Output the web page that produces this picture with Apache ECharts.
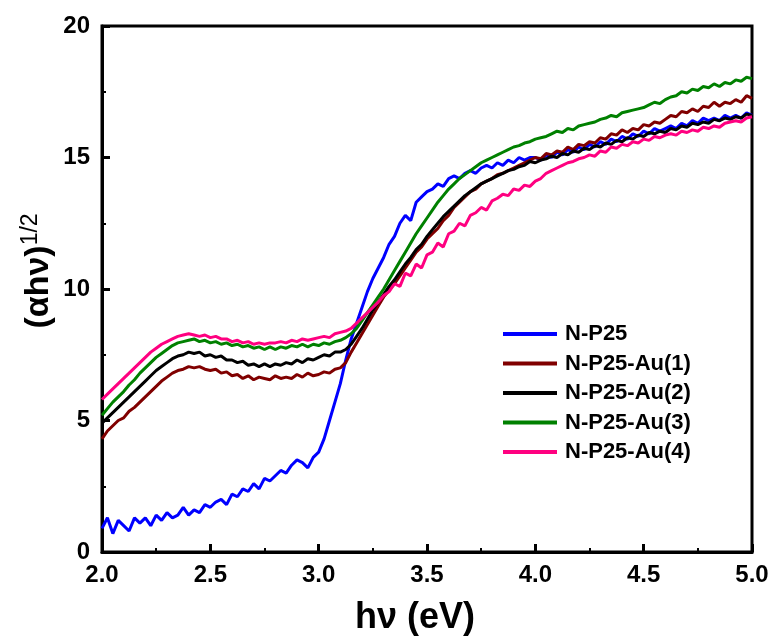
<!DOCTYPE html>
<html>
<head>
<meta charset="utf-8">
<script src="https://cdn.jsdelivr.net/npm/echarts@6/dist/echarts.min.js"></script>
<style>html,body{margin:0;padding:0;background:#fff}#c{width:772px;height:640px}</style>
</head>
<body>
<div id="c"></div>
<script>
const seriesNames = ['N-P25', 'N-P25-Au(1)', 'N-P25-Au(2)', 'N-P25-Au(3)', 'N-P25-Au(4)'];
const xTicks = [2.0, 2.5, 3.0, 3.5, 4.0, 4.5, 5.0];
const yTicks = [0, 5, 10, 15, 20];
const energy = [
2.000,2.025,2.050,2.075,2.100,2.125,2.150,2.175,2.200,2.225,
2.250,2.275,2.300,2.325,2.350,2.375,2.400,2.425,2.450,2.475,
2.500,2.525,2.550,2.575,2.600,2.625,2.650,2.675,2.700,2.725,
2.750,2.775,2.800,2.825,2.850,2.875,2.900,2.925,2.950,2.975,
3.000,3.025,3.050,3.075,3.100,3.125,3.150,3.175,3.200,3.225,
3.250,3.275,3.300,3.325,3.350,3.375,3.400,3.425,3.450,3.475,
3.500,3.525,3.550,3.575,3.600,3.625,3.650,3.675,3.700,3.725,
3.750,3.775,3.800,3.825,3.850,3.875,3.900,3.925,3.950,3.975,
4.000,4.025,4.050,4.075,4.100,4.125,4.150,4.175,4.200,4.225,
4.250,4.275,4.300,4.325,4.350,4.375,4.400,4.425,4.450,4.475,
4.500,4.525,4.550,4.575,4.600,4.625,4.650,4.675,4.700,4.725,
4.750,4.775,4.800,4.825,4.850,4.875,4.900,4.925,4.950,4.975,
5.000];
const nP25 = [
0.9,1.3,0.7,1.2,1.0,0.8,1.3,1.1,1.3,1.0,
1.4,1.2,1.5,1.3,1.4,1.7,1.4,1.6,1.5,1.8,
1.7,1.9,2.0,1.8,2.2,2.1,2.4,2.3,2.6,2.4,
2.8,2.7,2.9,3.1,3.0,3.3,3.5,3.4,3.2,3.6,
3.8,4.3,5.0,5.7,6.4,7.3,8.1,8.7,9.3,9.9,
10.4,10.8,11.2,11.7,12.0,12.5,12.8,12.6,13.3,13.5,
13.7,13.8,14.0,13.9,14.2,14.3,14.2,14.4,14.5,14.4,
14.6,14.7,14.6,14.8,14.7,14.9,14.8,15.0,14.9,15.0,
15.0,14.9,15.1,15.0,15.2,15.1,15.3,15.2,15.4,15.3,
15.5,15.4,15.6,15.5,15.7,15.6,15.8,15.7,15.9,15.8,
16.0,15.9,16.1,16.0,16.1,16.2,16.1,16.3,16.2,16.4,
16.3,16.5,16.4,16.5,16.4,16.6,16.5,16.6,16.5,16.7,
16.6];
const au1 = [
4.3,4.6,4.8,5.0,5.1,5.35,5.5,5.7,5.9,6.1,
6.3,6.5,6.65,6.8,6.9,6.95,7.05,7.0,7.05,6.95,
6.9,6.95,6.8,6.85,6.7,6.75,6.6,6.7,6.55,6.65,
6.6,6.55,6.7,6.6,6.65,6.6,6.75,6.65,6.8,6.7,
6.75,6.85,6.8,6.95,7.0,7.2,7.6,7.95,8.3,8.65,
9.0,9.35,9.7,9.95,10.2,10.5,10.8,11.1,11.4,11.6,
11.9,12.1,12.3,12.6,12.8,13.1,13.3,13.5,13.7,13.8,
14.0,14.1,14.2,14.35,14.4,14.5,14.6,14.7,14.8,14.9,
15.0,14.95,15.15,15.1,15.25,15.2,15.4,15.3,15.5,15.45,
15.6,15.55,15.75,15.7,15.9,15.85,16.05,15.95,16.1,16.05,
16.25,16.2,16.35,16.3,16.45,16.6,16.55,16.75,16.7,16.85,
16.75,16.95,16.9,17.1,16.95,17.1,17.05,17.2,17.1,17.35,
17.25];
const au2 = [
4.9,5.1,5.3,5.5,5.7,5.9,6.1,6.3,6.5,6.7,
6.9,7.05,7.2,7.35,7.45,7.5,7.6,7.55,7.6,7.45,
7.5,7.4,7.45,7.3,7.3,7.2,7.25,7.1,7.15,7.05,
7.15,7.05,7.15,7.1,7.2,7.15,7.3,7.2,7.35,7.3,
7.4,7.5,7.45,7.6,7.6,7.7,7.9,8.2,8.5,8.85,
9.2,9.5,9.8,10.1,10.35,10.65,10.95,11.2,11.5,11.7,
12.0,12.25,12.5,12.75,12.95,13.15,13.35,13.55,13.7,13.85,
14.0,14.1,14.2,14.3,14.4,14.5,14.55,14.65,14.7,14.85,
14.8,14.9,14.95,15.05,15.0,15.15,15.1,15.25,15.2,15.35,
15.3,15.45,15.4,15.55,15.5,15.65,15.6,15.75,15.7,15.85,
15.8,15.95,15.9,16.0,15.95,16.1,16.05,16.2,16.15,16.3,
16.25,16.35,16.3,16.45,16.4,16.5,16.45,16.55,16.5,16.65,
16.6];
const au3 = [
5.2,5.45,5.7,5.9,6.1,6.35,6.55,6.8,7.0,7.2,
7.4,7.55,7.7,7.85,7.95,8.0,8.05,8.1,8.0,8.05,
7.95,8.0,7.9,7.95,7.85,7.9,7.8,7.85,7.75,7.8,
7.7,7.8,7.7,7.8,7.75,7.85,7.8,7.9,7.8,7.9,
7.85,7.95,7.9,8.0,8.05,8.15,8.3,8.5,8.8,9.1,
9.4,9.7,10.0,10.35,10.7,11.05,11.4,11.75,12.1,12.4,
12.7,13.0,13.3,13.55,13.8,14.0,14.2,14.35,14.5,14.65,
14.8,14.9,15.0,15.1,15.2,15.3,15.4,15.45,15.55,15.6,
15.7,15.75,15.8,15.9,16.0,15.95,16.1,16.05,16.2,16.25,
16.3,16.35,16.45,16.5,16.6,16.55,16.7,16.75,16.8,16.85,
16.9,17.0,17.1,17.05,17.2,17.3,17.35,17.5,17.45,17.6,
17.55,17.7,17.65,17.8,17.7,17.85,17.8,17.95,17.9,18.05,
18.0];
const au4 = [
5.8,6.0,6.2,6.4,6.6,6.8,7.0,7.2,7.4,7.6,
7.75,7.9,8.0,8.1,8.2,8.25,8.3,8.25,8.2,8.25,
8.15,8.2,8.1,8.1,8.0,8.05,7.95,8.0,7.9,7.95,
7.9,7.95,7.95,8.0,7.95,8.05,8.0,8.1,8.05,8.1,
8.15,8.2,8.15,8.3,8.35,8.4,8.5,8.7,8.9,9.1,
9.3,9.5,9.75,9.9,10.2,10.1,10.6,10.5,10.95,10.8,
11.3,11.4,11.75,11.6,12.1,12.2,12.5,12.4,12.8,12.9,
13.1,13.0,13.35,13.45,13.6,13.55,13.8,13.75,13.95,13.9,
14.1,14.2,14.4,14.5,14.6,14.7,14.8,14.85,14.95,15.0,
15.1,15.05,15.25,15.2,15.4,15.35,15.5,15.45,15.6,15.55,
15.7,15.65,15.8,15.75,15.85,15.9,15.85,16.0,15.95,16.05,
16.0,16.15,16.1,16.2,16.15,16.3,16.35,16.4,16.35,16.5,
16.55];
const seriesValues = [nP25, au1, au2, au3, au4];
const colors = ['#0000FF', '#800000', '#000000', '#008000', '#FF0080'];

const FONT = 'Liberation Sans, Arial, sans-serif';
const chart = echarts.init(document.getElementById('c'), null, {renderer: 'canvas'});
const series = seriesNames.map((name, k) => ({
  name: name,
  type: 'line',
  data: energy.map((x, i) => [x, seriesValues[k][i]]),
  showSymbol: false,
  symbol: 'none',
  lineStyle: {width: 3, color: colors[k]},
  itemStyle: {color: colors[k]},
  z: 2 + k
}));
chart.setOption({
  animation: false,
  backgroundColor: '#fff',
  grid: {left: 102, right: 20, top: 26, bottom: 88, show: true, borderColor: '#000', borderWidth: 3, backgroundColor: 'transparent'},
  xAxis: {
    type: 'value', min: xTicks[0], max: xTicks[xTicks.length - 1], interval: 0.5,
    axisLine: {show: true, onZero: false, lineStyle: {color: '#000', width: 3}},
    axisTick: {show: true, inside: true, length: 8, lineStyle: {color: '#000', width: 3}},
    minorTick: {show: true, splitNumber: 2, length: 4, lineStyle: {color: '#000', width: 2}},
    splitLine: {show: false},
    axisLabel: {margin: 11, color: '#000', fontFamily: FONT, fontWeight: 'bold', fontSize: 24, formatter: v => v.toFixed(1)}
  },
  yAxis: {
    type: 'value', min: yTicks[0], max: yTicks[yTicks.length - 1], interval: 5,
    axisLine: {show: true, onZero: false, lineStyle: {color: '#000', width: 3}},
    axisTick: {show: true, inside: true, length: 8, lineStyle: {color: '#000', width: 3}},
    minorTick: {show: true, splitNumber: 2, length: 4, lineStyle: {color: '#000', width: 2}},
    splitLine: {show: false},
    axisLabel: {margin: 12, color: '#000', fontFamily: FONT, fontWeight: 'bold', fontSize: 24}
  },
  legend: {
    orient: 'vertical', left: 503, top: 323, padding: 0,
    itemWidth: 54, itemHeight: 4, itemGap: 7.5, icon: 'rect',
    data: seriesNames.map((n, k) => ({name: n, itemStyle: {color: colors[k]}})),
    textStyle: {fontFamily: FONT, fontWeight: 'bold', fontSize: 22, color: '#000', padding: [0, 0, 0, 3], lineHeight: 22}
  },
  graphic: [
    {type: 'text', left: 355, top: 600, style: {text: 'hν (eV)', fontFamily: FONT, fontWeight: 'bold', fontSize: 36, fill: '#000'}},
    {type: 'text', x: 39, y: 271, rotation: Math.PI / 2,
      style: {text: '{a|(αhν)}{b|1/2}', align: 'center', verticalAlign: 'middle',
        rich: {a: {fontFamily: FONT, fontWeight: 'bold', fontSize: 34, fill: '#000'},
               b: {fontFamily: FONT, fontSize: 23, fill: '#000', verticalAlign: 'top', padding: [0, 0, 16, 0]}}}}
  ],
  series: series
});
</script>
</body>
</html>
